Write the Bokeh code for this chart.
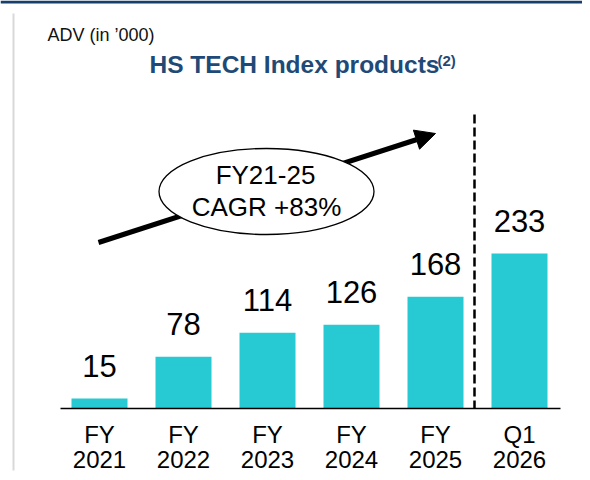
from bokeh.plotting import figure
from bokeh.models import Range1d, Arrow, NormalHead, ColumnDataSource
from bokeh.core.properties import value
from bokeh.embed import file_html
from bokeh.resources import INLINE

# ---- data ----
categories = ["FY 2021", "FY 2022", "FY 2023", "FY 2024", "FY 2025", "Q1 2026"]
adv_values = [15, 78, 114, 126, 168, 233]
axis_title = "ADV (in \u2019000)"
chart_title = "HS TECH Index products"
title_note = "(2)"
cagr_lines = ["FY21-25", "CAGR +83%"]

# ---- layout (pixel positions in the picture) ----
W, H = 582, 472
X0_CENTER = 99      # px centre of first bar
STEP = 84           # px between bar centres
BASE_Y = 408        # px of the zero line
PX_PER_UNIT = 0.665 # px per ADV unit
FONT = value("Liberation Sans")
BAR_COLOR = "#27C9D3"
NAVY = "#1F4A78"
MID = 0.35          # em distance from text middle to baseline


def X(px):
    return (px - X0_CENTER) / STEP


def Y(py):
    return (BASE_Y - py) / PX_PER_UNIT


def mid(baseline_px, size):
    """pixel of the text middle for a wanted baseline"""
    return baseline_px - MID * size


p = figure(width=W, height=H, output_backend="svg", toolbar_location=None,
           x_range=Range1d(X(0), X(W)),
           y_range=Range1d(Y(H), Y(0)),
           x_axis_type=None, y_axis_type=None, min_border=0,
           outline_line_color=None)
p.background_fill_color = "white"
p.border_fill_color = "white"

idx = list(range(len(categories)))
src = ColumnDataSource(dict(
    x=idx,
    top=adv_values,
    label=[str(v) for v in adv_values],
    line1=[c.split(" ")[0] for c in categories],
    line2=[c.split(" ")[1] for c in categories],
))

# slide decorations
p.segment(x0=X(0), y0=Y(1.5), x1=X(W), y1=Y(1.5), line_color="#173F6B", line_width=3)
p.segment(x0=X(13), y0=Y(13), x1=X(13), y1=Y(470), line_color="#D9D9D9", line_width=2)

# bars
p.vbar(x="x", top="top", bottom=0, width=56 / STEP, fill_color=BAR_COLOR,
       line_color=None, source=src)

# zero line
p.segment(x0=X(60), y0=0, x1=X(560), y1=0, line_color="black", line_width=1.5)

# dashed divider
p.segment(x0=X(474), y0=Y(114), x1=X(474), y1=0, line_color="black",
          line_width=2.5, line_dash="9 4")

# value labels
p.text(x="x", y="top", text="label", source=src, text_align="center",
       text_baseline="middle", y_offset=-22 - MID * 31, text_font=FONT,
       text_font_size="31px", text_color="black")

# category labels
p.text(x="x", y=0, text="line1", source=src, text_align="center",
       text_baseline="middle", y_offset=mid(442, 24) - BASE_Y, text_font=FONT,
       text_font_size="24px", text_color="black")
p.text(x="x", y=0, text="line2", source=src, text_align="center",
       text_baseline="middle", y_offset=mid(467, 24) - BASE_Y, text_font=FONT,
       text_font_size="24px", text_color="black")

# growth arrow
arrow = Arrow(x_start=X(98), y_start=Y(242), x_end=X(435), y_end=Y(133),
              line_width=5, line_color="black",
              end=NormalHead(size=20, fill_color="black", line_color="black"),
              level="underlay")
p.add_layout(arrow)

# CAGR ellipse
p.ellipse(x=[X(266)], y=[Y(191)], width=215, height=86,
          width_units="screen", height_units="screen",
          fill_color="white", line_color="black", line_width=1.3)
p.text(x=[X(265)], y=[Y(mid(183.5, 26))], text=[cagr_lines[0]], text_align="center",
       text_baseline="middle", text_font=FONT, text_font_size="26px",
       text_color="black")
p.text(x=[X(266)], y=[Y(mid(216, 26))], text=[cagr_lines[1]], text_align="center",
       text_baseline="middle", text_font=FONT, text_font_size="26px",
       text_color="black")

# titles
p.text(x=[X(47)], y=[Y(mid(40.5, 18))], text=[axis_title], text_align="left",
       text_baseline="middle", text_font=FONT, text_font_size="18px",
       text_color="#111111")
p.text(x=[X(149)], y=[Y(mid(73, 24.5))], text=[chart_title], text_align="left",
       text_baseline="middle", text_font=FONT, text_font_size="24.5px",
       text_font_style="bold", text_color=NAVY)
p.text(x=[X(437)], y=[Y(mid(65, 15))], text=[title_note], text_align="left",
       text_baseline="middle", text_font=FONT, text_font_size="15px",
       text_font_style="bold", text_color=NAVY)

open("out.html", "w").write(file_html(p, INLINE))
